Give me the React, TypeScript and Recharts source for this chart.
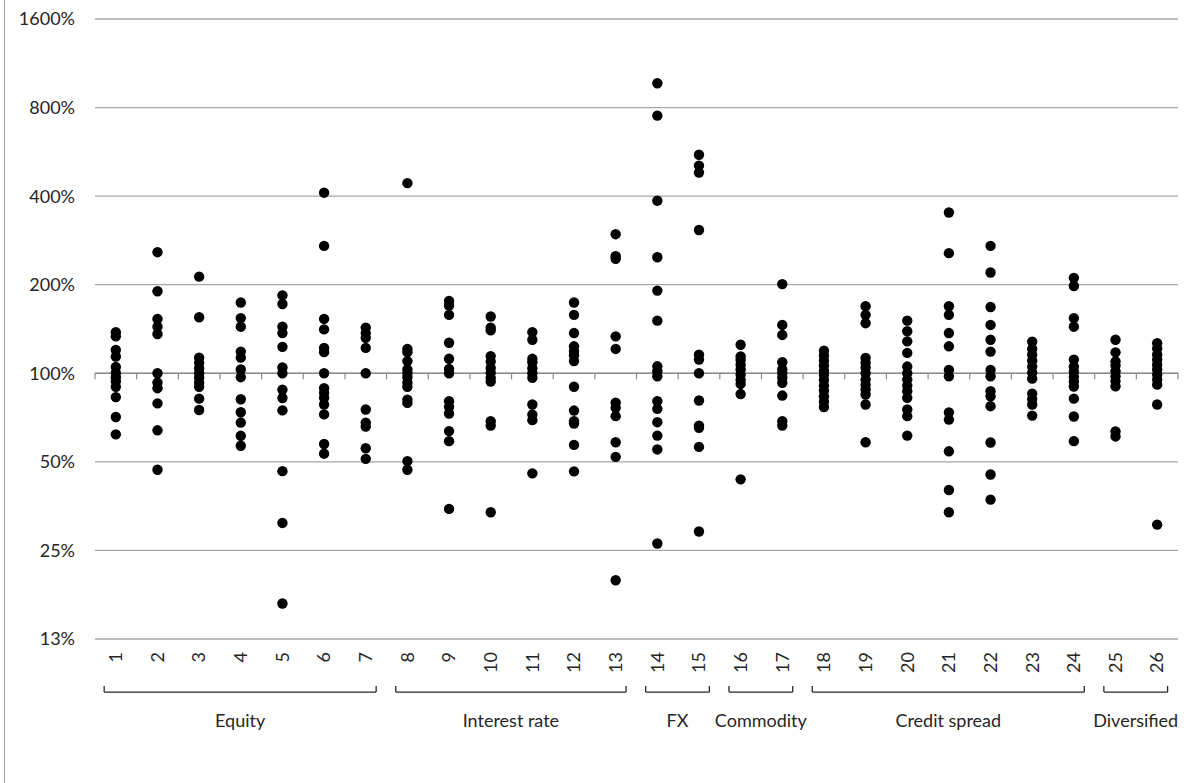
import React from 'react';
import {
  ScatterChart,
  Scatter,
  XAxis,
  YAxis,
  CartesianGrid,
  ReferenceLine
} from 'recharts';

// one inner list per stress test, values in % of the base case
const equity = [
  [138, 133.5, 120, 114, 105, 100.3, 97, 94, 90, 83, 71, 62],
  [258, 190, 153, 144, 136, 100, 93, 89, 79, 64, 47],
  [213, 155, 113, 108.5, 104, 100, 96.5, 93, 90, 82, 75],
  [174, 154, 144, 118.5, 113, 103, 97, 81.6, 73.7, 68, 61.3, 56.7],
  [184, 172, 144, 137, 123, 104.6, 100, 88, 82.4, 74.8, 46.5, 31, 16.5],
  [411, 271, 153, 141, 122, 118, 100, 89, 85.8, 82.5, 78.3, 72.5, 57.5, 53.3],
  [143, 137, 132, 122, 100, 75.3, 67.9, 65.9, 55.6, 51.2]
];

const interestRate = [
  [443, 121, 118, 110, 103, 100, 97, 93, 90, 81.4, 79.3, 50.3, 47],
  [176, 170, 158, 127, 112, 103.5, 100, 80.4, 76.9, 73, 63.6, 58.8, 34.6],
  [156, 143, 140, 114.4, 109.6, 104.3, 100.5, 96.5, 93.7, 68.7, 66.4, 33.7],
  [138, 130, 112, 109, 104, 100, 96.5, 78.3, 72.4, 69.3, 45.7],
  [174, 158, 137, 123.5, 119, 115, 110, 90, 74.7, 68.7, 67.5, 57.1, 46.4],
  [297, 250, 245, 133.5, 121, 79.4, 76.3, 71.5, 58.3, 52, 19.8]
];

const fx = [
  [968, 751, 386, 248, 191, 151, 105.6, 101.6, 97.7, 80.4, 75.7, 68.2, 61.4, 55.1, 26.4],
  [553, 508, 481, 307, 115.7, 111.3, 100, 80.8, 66.4, 65.3, 56.2, 29]
];

const commodity = [
  [125, 114, 111, 107, 103, 99, 95, 92, 85, 43.6],
  [201, 146, 135, 109, 103, 100, 96.5, 92.8, 84, 68.7, 66.4]
];

const creditSpread = [
  [119.4, 114.8, 110.4, 106.2, 102.1, 98.6, 94.8, 90.8, 87.3, 83.4, 80.1, 76.8],
  [169, 158, 148, 112.8, 108.7, 104.6, 100, 95.2, 91.5, 88.1, 84.7, 78.3, 58.3],
  [151, 139, 128.4, 117.3, 105.4, 100, 95.2, 90.8, 86.9, 82.5, 75.3, 71.5, 61.4],
  [352, 256, 169, 158, 137, 123.5, 102.7, 97.7, 73.6, 69.6, 54.3, 40.1, 33.7],
  [271, 220, 168, 146, 130, 118.5, 102.7, 97.7, 86.9, 83.5, 77.3, 58.2, 45.3, 37.2],
  [128, 121, 115.7, 110.4, 105.4, 100.5, 95.9, 85.3, 81.7, 78.3, 71.8],
  [211, 198, 154, 144, 111.3, 105.4, 101.3, 97.4, 93.7, 90.1, 82, 71.3, 58.8]
];

const diversified = [
  [130, 117.8, 109.8, 106.2, 101.7, 97.8, 94.1, 90.3, 63.4, 61],
  [126.6, 121.3, 115.7, 111.3, 107, 103, 99, 95.2, 91.5, 78.3, 30.6]
];

const GROUPS = [
  { name: 'Equity', runs: equity },
  { name: 'Interest rate', runs: interestRate },
  { name: 'FX', runs: fx },
  { name: 'Commodity', runs: commodity },
  { name: 'Credit spread', runs: creditSpread },
  { name: 'Diversified', runs: diversified }
];

const yTicks = [12.5, 25, 50, 100, 200, 400, 800, 1600];

const FONT = 'Lato, "Noto Sans", sans-serif';
const TEXT = '#262626';
const GRID = '#a6a6a6';
const AXIS = '#8a8a8a';

// bracket line / tip heights below the axis, in axis units
const BRACKET_Y = 8.25;
const BRACKET_TIP_Y = 8.65;
const AXIS_TICK_END = 95.4;

// flatten groups into points + bracket ranges
const points: { x: number; y: number }[] = [];
const brackets: { name: string; first: number; last: number }[] = [];
let catCount = 0;
GROUPS.forEach(g => {
  const first = catCount + 1;
  g.runs.forEach(run => {
    catCount++;
    run.forEach(v => points.push({ x: catCount, y: v }));
  });
  brackets.push({ name: g.name, first, last: catCount });
});
const categories = Array.from({ length: catCount }, (_, i) => i + 1);
const boundaries = Array.from({ length: catCount + 1 }, (_, i) => i + 0.5);

const XTick = ({ x, y, payload }: any) => (
  <g transform={`translate(${x},${y})`}>
    <text
      transform="rotate(-90)"
      textAnchor="end"
      dy="0.35em"
      fill={TEXT}
      fontSize={18}
      fontFamily={FONT}
    >
      {payload.value}
    </text>
  </g>
);

const Dot = (props: any) => <circle cx={props.cx} cy={props.cy} r={5.2} fill="#000" />;

export default function App() {
  return (
    <div style={{ position: 'absolute', left: 0, top: 0, width: 1192, height: 783, background: '#fff' }}>
      <div style={{ position: 'absolute', left: 4, top: 0, width: 1, height: 783, background: '#a0a0a0' }} />
      <ScatterChart width={1192} height={783} margin={{ top: 19, right: 14, bottom: 100, left: 0 }}>
        <CartesianGrid horizontal vertical={false} stroke={GRID} strokeWidth={1.3} />
        <XAxis
          type="number"
          dataKey="x"
          domain={[0.5, 26.5]}
          ticks={categories}
          interval={0}
          axisLine={false}
          tickLine={false}
          tickSize={0}
          tickMargin={13}
          height={44}
          tick={<XTick />}
        />
        <YAxis
          type="number"
          dataKey="y"
          scale="log"
          domain={[12.5, 1600]}
          ticks={yTicks}
          interval={0}
          allowDataOverflow
          axisLine={false}
          tickLine={false}
          tickSize={0}
          tickMargin={20}
          width={95}
          tickFormatter={(v: number) => `${Math.round(v)}%`}
          tick={{ fill: TEXT, fontSize: 18, fontFamily: FONT }}
        />
        <ReferenceLine y={100} stroke={AXIS} strokeWidth={1.5} />
        {boundaries.map(b => (
          <ReferenceLine
            key={`t${b}`}
            segment={[{ x: b, y: 100 }, { x: b, y: AXIS_TICK_END }]}
            stroke={AXIS}
            strokeWidth={1.2}
          />
        ))}
        {brackets.map(br => {
          const x0 = br.first - 0.28;
          const x1 = br.last + 0.25;
          return (
            <React.Fragment key={br.name}>
              <ReferenceLine
                segment={[{ x: x0, y: BRACKET_Y }, { x: x1, y: BRACKET_Y }]}
                ifOverflow="visible"
                stroke={TEXT}
                strokeWidth={1.3}
                label={{ value: br.name, position: 'bottom', offset: 22, fill: TEXT, fontSize: 18, fontFamily: FONT }}
              />
              <ReferenceLine
                segment={[{ x: x0, y: BRACKET_Y }, { x: x0, y: BRACKET_TIP_Y }]}
                ifOverflow="visible"
                stroke={TEXT}
                strokeWidth={1.3}
              />
              <ReferenceLine
                segment={[{ x: x1, y: BRACKET_Y }, { x: x1, y: BRACKET_TIP_Y }]}
                ifOverflow="visible"
                stroke={TEXT}
                strokeWidth={1.3}
              />
            </React.Fragment>
          );
        })}
        <Scatter data={points} fill="#000" shape={Dot} isAnimationActive={false} />
      </ScatterChart>
    </div>
  );
}
